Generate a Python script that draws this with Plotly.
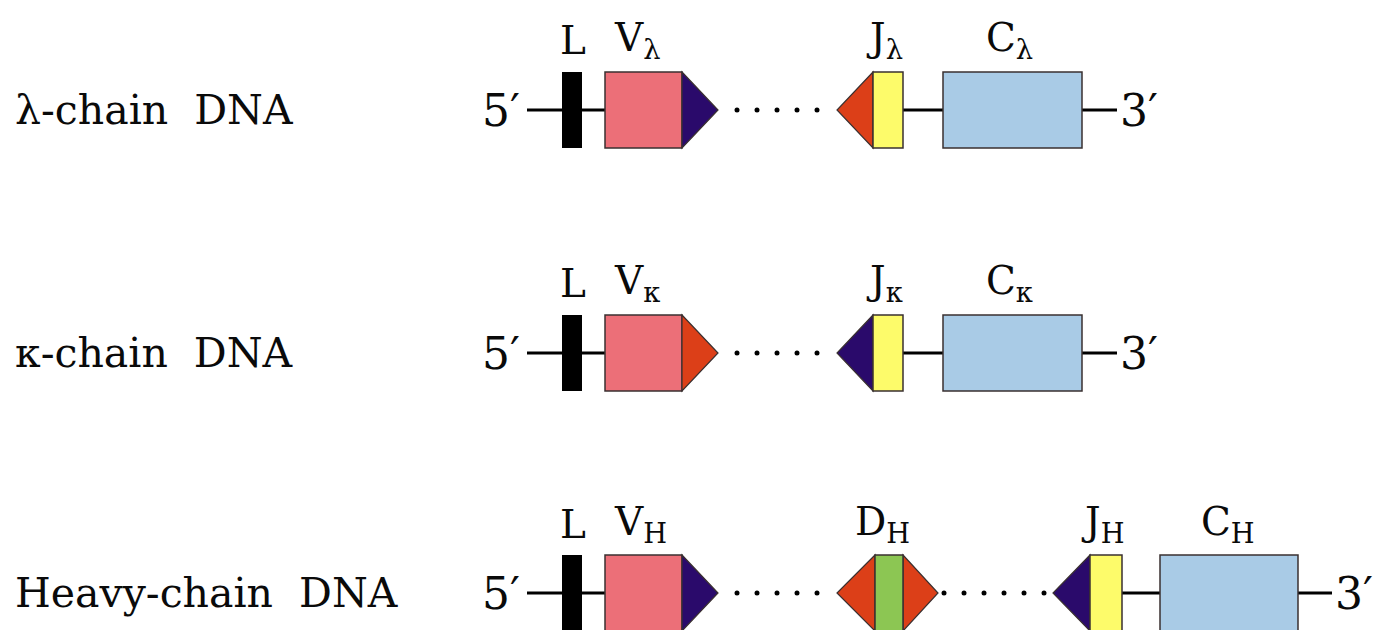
import plotly.graph_objects as go
import numpy as np

# ---------------- data ----------------
row_labels = ["λ-chain\u00a0\u00a0DNA", "κ-chain\u00a0\u00a0DNA", "Heavy-chain\u00a0\u00a0DNA"]
row_center = [110, 353, 593]          # vertical position of each DNA strand
half_h = 38                           # half height of gene segments

# leader (L) segment
L_span = [562, 582]
# V segment: body + recombination signal triangle
V_body = [605, 682]
V_tri = [682, 718]
V_tri_color = ["#2a0a6b", "#dc3f18", "#2a0a6b"]
# J segment: triangle (pointing left) + body
J_tri = [[837, 873], [837, 873], [1053, 1090]]
J_body = [[873, 903], [873, 903], [1090, 1122]]
J_tri_color = ["#dc3f18", "#2a0a6b", "#2a0a6b"]
# C segment
C_body = [[943, 1082], [943, 1082], [1160, 1298]]
# D segment (heavy chain only)
D_left_tri = [837, 875]
D_body = [875, 903]
D_right_tri = [903, 938]
# solid DNA strand pieces
solid = [[[527, 605], [903, 1117]], [[527, 605], [903, 1117]], [[527, 605], [1122, 1332]]]
# dotted (long intervening) pieces
dotted = [[[737, 836]], [[737, 836]], [[737, 836], [944, 1052]]]
# end labels
five_x = 522
three_x = [1118, 1118, 1333]

# segment labels: (row, main text, subscript, left x)
seg_rows = [0, 0, 0, 0, 1, 1, 1, 1, 2, 2, 2, 2, 2]
seg_main = ["L", "V", "J", "C", "L", "V", "J", "C", "L", "V", "D", "J", "C"]
seg_sub = ["", "λ", "λ", "λ", "", "κ", "κ", "κ", "", "H", "H", "H", "H"]
seg_x = [558, 612, 864, 984, 558, 612, 864, 984, 558, 612, 853, 1079, 1199]
label_y = [40, 283, 524]

# colours
PINK = "#ec6f78"
YELLOW = "#fdfb6a"
BLUE = "#a9cbe6"
GREEN = "#8cc653"
OUT = "#3a3030"
TXT = "#0a0a0a"

# page offset (browser body margin) so that data units equal page pixels
OFF = 8
W, H = 1382, 630

fig = go.Figure()
shapes = []
annotations = []
FONT = "DejaVu Serif"


def rect(x0, x1, yc, color, lw=1.5):
    shapes.append(dict(type="rect", x0=x0, x1=x1, y0=yc - half_h, y1=yc + half_h,
                       fillcolor=color, line=dict(color=OUT, width=lw), layer="above"))


def tri(xbase, xapex, yc, color):
    path = f"M {xbase},{yc - half_h} L {xapex},{yc} L {xbase},{yc + half_h} Z"
    shapes.append(dict(type="path", path=path, fillcolor=color,
                       line=dict(color=OUT, width=1.2), layer="above"))


for r, yc in enumerate(row_center):
    for a, b in solid[r]:
        fig.add_trace(go.Scatter(x=[a, b], y=[yc, yc], mode="lines",
                                 line=dict(color="black", width=3), hoverinfo="skip", showlegend=False))
    for a, b in dotted[r]:
        xs = np.arange(a, b + 1, 20)
        fig.add_trace(go.Scatter(x=xs, y=[yc] * len(xs), mode="markers",
                                 marker=dict(color="black", size=5), hoverinfo="skip", showlegend=False))
    shapes.append(dict(type="rect", x0=L_span[0], x1=L_span[1], y0=yc - half_h, y1=yc + half_h,
                       fillcolor="black", line=dict(color="black", width=0), layer="above"))
    rect(V_body[0], V_body[1], yc, PINK)
    tri(V_tri[0], V_tri[1], yc, V_tri_color[r])
    if r == 2:
        tri(D_left_tri[1], D_left_tri[0], yc, "#dc3f18")
        tri(D_right_tri[0], D_right_tri[1], yc, "#dc3f18")
        rect(D_body[0], D_body[1], yc, GREEN)
    tri(J_tri[r][1], J_tri[r][0], yc, J_tri_color[r])
    rect(J_body[r][0], J_body[r][1], yc, YELLOW)
    rect(C_body[r][0], C_body[r][1], yc, BLUE)
    annotations.append(dict(x=13, y=yc, text=row_labels[r], xanchor="left", yanchor="middle",
                            showarrow=False, font=dict(family=FONT, size=41, color=TXT)))
    annotations.append(dict(x=five_x, y=yc, text="5′", xanchor="right", yanchor="middle",
                            showarrow=False, font=dict(family=FONT, size=44, color=TXT)))
    annotations.append(dict(x=three_x[r], y=yc, text="3′", xanchor="left", yanchor="middle",
                            showarrow=False, font=dict(family=FONT, size=44, color=TXT)))

for r, m, s, x in zip(seg_rows, seg_main, seg_sub, seg_x):
    txt = m if not s else f"{m}<sub>{s}</sub>"
    annotations.append(dict(x=x, y=label_y[r], text=txt, xanchor="left", yanchor="middle",
                            showarrow=False, font=dict(family=FONT, size=39, color=TXT)))

fig.update_layout(
    width=W - OFF, height=H - OFF,
    margin=dict(l=0, r=0, t=0, b=0),
    paper_bgcolor="white", plot_bgcolor="white",
    xaxis=dict(range=[OFF, W], visible=False, fixedrange=True),
    yaxis=dict(range=[H, OFF], visible=False, fixedrange=True),
    shapes=shapes, annotations=annotations, showlegend=False,
)
fig.write_html("out.html")
